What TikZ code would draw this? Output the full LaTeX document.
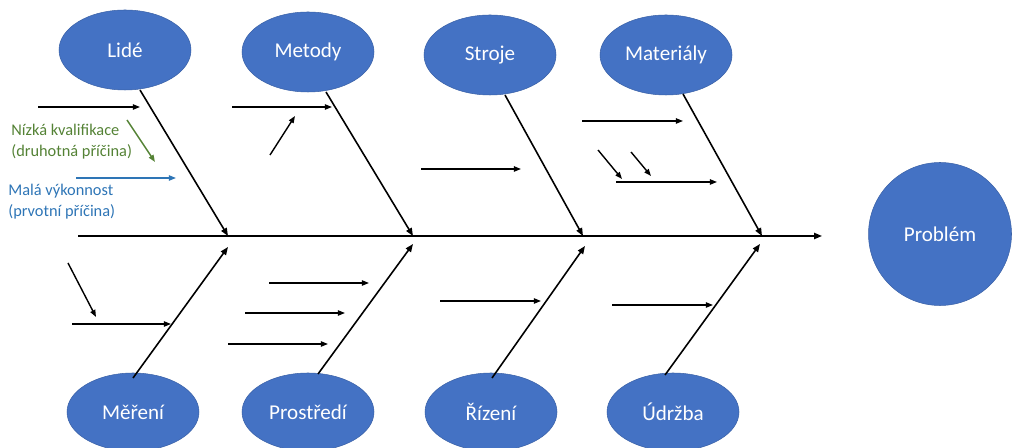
\documentclass[tikz,border=0pt]{standalone}
\usepackage{fontspec}
\setmainfont{Carlito}
\usetikzlibrary{arrows.meta,shapes.geometric}
\definecolor{cblue}{RGB}{68,114,196}
\definecolor{tgreen}{RGB}{84,130,53}
\definecolor{tblue}{RGB}{46,117,182}
\tikzset{
  cat/.style={ellipse,fill=cblue,draw=cblue!85!black,line width=0.3pt,minimum width=132*0.02cm,minimum height=80*0.02cm,inner sep=0pt,text=white,font=\fontsize{12}{14}\selectfont},
  prob/.style={circle,fill=cblue,draw=cblue!85!black,line width=0.3pt,minimum size=143*0.02cm,inner sep=0pt,text=white,font=\fontsize{12}{14}\selectfont},
  bone/.style={line width=0.9pt,-{Triangle[length=4.5pt,width=3.5pt]}},
  sub/.style={line width=0.8pt,-{Triangle[length=4pt,width=3pt]}},
  note/.style={align=left,anchor=west,inner sep=0pt,font=\fontsize{9.3}{12}\selectfont},
}
\begin{document}
\begin{tikzpicture}[x=0.02cm,y=-0.02cm]
\useasboundingbox (0,0) rectangle (1013,448);
% categories
\node[cat] (lide) at (125,50) {Lidé};
\node[cat] (metody) at (308,52) {Metody};
\node[cat] (stroje) at (490,55) {Stroje};
\node[cat] (mat) at (666,55) {Materiály};
\node[cat,minimum height=78*0.02cm] (mereni) at (133,412) {Měření};
\node[cat,minimum height=78*0.02cm] (prostr) at (308,412) {Prostředí};
\node[cat,minimum height=78*0.02cm] (rizeni) at (491,412) {Řízení};
\node[cat,minimum height=78*0.02cm] (udrzba) at (673,412) {Údržba};
\node[prob] (problem) at (940,234) {Problém};
% spine
\coordinate (s0) at (78,236);
\coordinate (s1) at (822,236);
\draw[bone] (s0) -- (s1);
% bone end points
\coordinate (t1s) at (140,90);  \coordinate (t1e) at (228,236);
\coordinate (t2s) at (326,92);  \coordinate (t2e) at (413,236);
\coordinate (t3s) at (505,95);  \coordinate (t3e) at (583,236);
\coordinate (t4s) at (683,94);  \coordinate (t4e) at (762,236);
\coordinate (b1s) at (133,378); \coordinate (b1e) at (228,247);
\coordinate (b2s) at (318,374); \coordinate (b2e) at (413,244);
\coordinate (b3s) at (492,378); \coordinate (b3e) at (585,246);
\coordinate (b4s) at (665,375); \coordinate (b4e) at (760,244);
\foreach \n in {t1,t2,t3,t4,b1,b2,b3,b4} \draw[bone] (\n s) -- (\n e);
% sub-causes Lide
\coordinate (a1) at (38,107); \coordinate (a1e) at (140,107);
\draw[sub] (a1) -- (a1e);
\coordinate (g1) at (127,120); \coordinate (g1e) at (155,162);
\draw[sub,draw=tgreen,fill=tgreen] (g1) -- (g1e);
\coordinate (c1) at (76,178); \coordinate (c1e) at (176,178);
\draw[sub,draw=tblue,fill=tblue] (c1) -- (c1e);
\node[note,text=tgreen] (n1) at (11,142) {Nízká kvalifikace\\(druhotná příčina)};
\node[note,text=tblue] (n2) at (8,202) {Malá výkonnost\\(prvotní příčina)};
% Metody
\coordinate (m1) at (232,107); \coordinate (m1e) at (332,107);
\draw[sub] (m1) -- (m1e);
\coordinate (m2) at (270,155); \coordinate (m2e) at (295,116);
\draw[sub] (m2) -- (m2e);
% Stroje
\coordinate (st1) at (421,169); \coordinate (st1e) at (521,169);
\draw[sub] (st1) -- (st1e);
% Materialy
\coordinate (ma1) at (582,121); \coordinate (ma1e) at (683,121);
\draw[sub] (ma1) -- (ma1e);
\coordinate (ma2) at (598,150); \coordinate (ma2e) at (622,179);
\draw[sub] (ma2) -- (ma2e);
\coordinate (ma3) at (631,152); \coordinate (ma3e) at (651,176);
\draw[sub] (ma3) -- (ma3e);
\coordinate (ma4) at (616,182); \coordinate (ma4e) at (717,182);
\draw[sub] (ma4) -- (ma4e);
% Mereni
\coordinate (me1) at (68,263); \coordinate (me1e) at (96,317);
\draw[sub] (me1) -- (me1e);
\coordinate (me2) at (72,324); \coordinate (me2e) at (171,324);
\draw[sub] (me2) -- (me2e);
% Prostredi
\coordinate (p1) at (269,283); \coordinate (p1e) at (369,283);
\draw[sub] (p1) -- (p1e);
\coordinate (p2) at (245,313); \coordinate (p2e) at (345,313);
\draw[sub] (p2) -- (p2e);
\coordinate (p3) at (228,344); \coordinate (p3e) at (328,344);
\draw[sub] (p3) -- (p3e);
% Rizeni
\coordinate (r1) at (440,301); \coordinate (r1e) at (541,301);
\draw[sub] (r1) -- (r1e);
% Udrzba
\coordinate (u1) at (612,305); \coordinate (u1e) at (713,305);
\draw[sub] (u1) -- (u1e);
\end{tikzpicture}
\end{document}
